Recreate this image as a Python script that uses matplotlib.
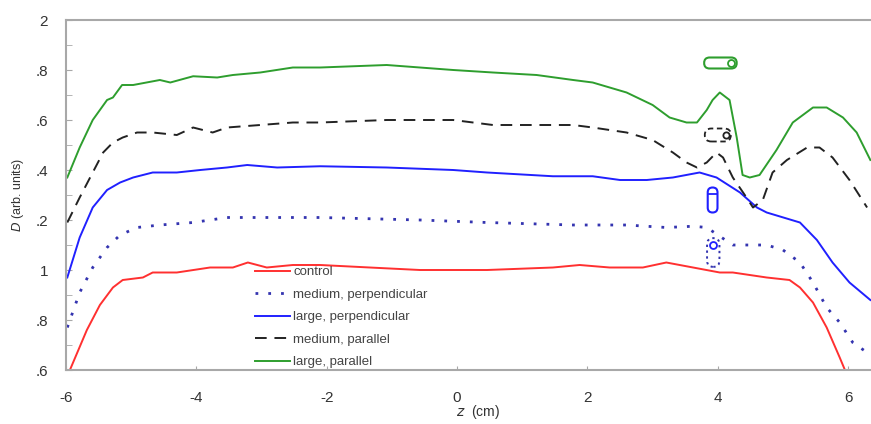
import numpy as np
import matplotlib.pyplot as plt
from matplotlib.patches import FancyBboxPatch

plt.rcParams['font.family'] = ['Liberation Sans', 'DejaVu Sans']

# large, parallel
green_x = [-5.98, -5.79, -5.59, -5.37, -5.28, -5.14, -4.97, -4.56, -4.40, -4.05, -3.68, -3.44,
           -3.02, -2.52, -2.10, -1.08, -0.06, 0.55, 1.22, 1.78, 2.08, 2.60, 3.00, 3.26, 3.52,
           3.68, 3.83, 3.92, 4.03, 4.18, 4.29, 4.38, 4.49, 4.64, 4.90, 5.15, 5.46, 5.67, 5.92,
           6.13, 6.34]
green_y = [1.37, 1.49, 1.60, 1.68, 1.69, 1.74, 1.74, 1.76, 1.75, 1.775, 1.77, 1.78,
           1.79, 1.81, 1.81, 1.82, 1.80, 1.79, 1.78, 1.76, 1.75, 1.71, 1.66, 1.61, 1.59,
           1.59, 1.64, 1.68, 1.71, 1.68, 1.53, 1.38, 1.37, 1.38, 1.48, 1.59, 1.65, 1.65, 1.61,
           1.55, 1.44]

# medium, parallel
black_x = [-5.98, -5.79, -5.59, -5.43, -5.28, -5.13, -4.91, -4.67, -4.30, -4.05, -3.75, -3.53,
           -3.02, -2.52, -2.10, -1.08, -0.06, 0.55, 1.78, 2.08, 2.60, 3.00, 3.31, 3.52, 3.68,
           3.83, 3.98, 4.08, 4.23, 4.44, 4.54, 4.69, 4.84, 5.06, 5.37, 5.56, 5.76, 6.02, 6.29]
black_y = [1.19, 1.29, 1.39, 1.47, 1.51, 1.53, 1.55, 1.55, 1.54, 1.57, 1.55, 1.57,
           1.58, 1.59, 1.59, 1.60, 1.60, 1.58, 1.58, 1.57, 1.55, 1.52, 1.47, 1.43, 1.41,
           1.43, 1.47, 1.45, 1.37, 1.29, 1.25, 1.28, 1.39, 1.44, 1.49, 1.49, 1.45, 1.36, 1.25]

# large, perpendicular
blue_x = [-5.98, -5.79, -5.59, -5.37, -5.17, -4.97, -4.67, -4.30, -3.94, -3.53, -3.22, -2.76,
          -2.10, -1.08, -0.06, 0.46, 1.47, 1.88, 2.08, 2.50, 2.91, 3.31, 3.72, 3.98, 4.34,
          4.60, 4.75, 5.26, 5.52, 5.76, 6.02, 6.34]
blue_y = [0.97, 1.13, 1.25, 1.32, 1.35, 1.37, 1.39, 1.39, 1.40, 1.41, 1.42, 1.41,
          1.415, 1.41, 1.40, 1.39, 1.375, 1.375, 1.375, 1.36, 1.36, 1.37, 1.39, 1.37, 1.31,
          1.25, 1.23, 1.19, 1.12, 1.03, 0.95, 0.88]

# medium, perpendicular
dot_x = [-5.98, -5.79, -5.59, -5.37, -5.17, -4.91, -4.56, -4.05, -3.53, -3.22, -2.76, -2.10,
         -0.57, 0.46, 1.78, 2.60, 3.21, 3.62, 3.83, 4.23, 4.75, 5.00, 5.26, 5.46, 5.67,
         5.87, 6.07, 6.29]
dot_y = [0.77, 0.91, 1.01, 1.09, 1.14, 1.17, 1.18, 1.19, 1.21, 1.21, 1.21, 1.21,
         1.20, 1.19, 1.18, 1.18, 1.17, 1.175, 1.17, 1.10, 1.10, 1.08, 1.03, 0.95, 0.85,
         0.79, 0.71, 0.67]

# control
red_x = [-5.94, -5.68, -5.48, -5.28, -5.13, -4.82, -4.67, -4.30, -3.79, -3.44, -3.21, -2.92,
         -2.52, -2.10, -1.34, -0.57, 0.46, 1.47, 1.88, 2.34, 2.85, 3.21, 3.62, 4.03, 4.23,
         4.75, 5.10, 5.26, 5.46, 5.67, 5.87, 5.95]
red_y = [0.60, 0.76, 0.86, 0.93, 0.96, 0.97, 0.99, 0.99, 1.01, 1.01, 1.03, 1.01,
         1.02, 1.02, 1.01, 1.00, 1.00, 1.01, 1.02, 1.01, 1.01, 1.03, 1.01, 0.99, 0.99,
         0.97, 0.96, 0.93, 0.87, 0.77, 0.65, 0.60]

labels = ["control", "medium, perpendicular", "large, perpendicular",
          "medium, parallel", "large, parallel"]
y_ticks = [0.6, 0.8, 1.0, 1.2, 1.4, 1.6, 1.8, 2.0]
y_ticklabels = [".6", ".8", "1", ".2", ".4", ".6", ".8", "2"]
x_ticks = [-6, -4, -2, 0, 2, 4, 6]

fig = plt.figure(figsize=(8.71, 4.24), dpi=100)
ax = fig.add_axes([66 / 871, 1 - 370 / 424, 805 / 871, 350 / 424])

ax.plot(red_x, red_y, color="#ff3030", lw=1.4, label=labels[0])
ax.plot(dot_x, dot_y, color="#3434b0", lw=2.0, ls=(0, (1.0, 3.6)), label=labels[1])
ax.plot(blue_x, blue_y, color="#2020ff", lw=1.4, label=labels[2])
ax.plot(black_x, black_y, color="#222222", lw=1.4, ls=(0, (6, 4)), label=labels[3])
ax.plot(green_x, green_y, color="#2e9e2e", lw=1.4, label=labels[4])

ax.set_xlim(-6, 6.35)
ax.set_ylim(0.6, 2.0)

# orientation icons
ma = (805 / 12.35) / 250.0


def capsule(cx, cy, w, h, color, ls="-", lw=1.3):
    # w in x units, h in y units
    r = min(w, h / ma) / 2
    p = FancyBboxPatch((cx - w / 2, cy - h / 2), w, h,
                       boxstyle="round,pad=0,rounding_size=%f" % r,
                       mutation_aspect=ma, fc="none", ec=color, ls=ls, lw=lw,
                       clip_on=False)
    ax.add_patch(p)


capsule(4.04, 1.828, 0.50, 0.044, "#2e9e2e", lw=1.5)
ax.plot([4.20], [1.828], marker="o", ms=5, mfc="none", mec="#2e9e2e", mew=1.3)
capsule(4.00, 1.54, 0.40, 0.052, "#222222", ls=(0, (3, 2)), lw=1.3)
ax.plot([4.13], [1.54], marker="o", ms=4.5, mfc="none", mec="#222222", mew=1.3)
capsule(3.92, 1.28, 0.15, 0.10, "#2020ff", lw=1.5)
ax.plot([3.85, 3.99], [1.305, 1.305], color="#2020ff", lw=1.3)
capsule(3.93, 1.07, 0.19, 0.115, "#3434b0", ls=(0, (1.2, 1.8)), lw=1.4)
ax.plot([3.93], [1.10], marker="o", ms=5, mfc="none", mec="#2020ff", mew=1.3)

ax.set_yticks(y_ticks)
ax.set_yticklabels(y_ticklabels)
ax.set_yticks(np.arange(0.6, 2.0, 0.1), minor=True)
ax.set_xticks(x_ticks)
ax.set_xticklabels([str(t) for t in x_ticks])

spine_c = "#a8a8a8"
ax.spines["right"].set_visible(False)
for s in ["left", "top", "bottom"]:
    ax.spines[s].set_color(spine_c)
    ax.spines[s].set_linewidth(1.5)
ax.tick_params(axis="y", which="both", direction="in", length=4, color=spine_c,
               labelsize=11, labelcolor="#333333", pad=13)
ax.tick_params(axis="x", which="both", direction="in", length=3, color=spine_c,
               labelsize=11, labelcolor="#333333", pad=15)

fig.text(18 / 871, 1 - 195 / 424, r"$D$ (arb. units)", rotation=90, fontsize=9,
         color="#333333", ha="center", va="center")
fig.text(478 / 871, 1 - 412 / 424, r"$z$  (cm)", fontsize=10, color="#333333",
         ha="center", va="center")

leg = ax.legend(loc="upper left", bbox_to_anchor=(255 / 871, 1 - 266 / 424),
                bbox_transform=fig.transFigure, frameon=False, fontsize=9.5,
                handlelength=2.65, handletextpad=0.25, labelspacing=0.78,
                borderpad=0, borderaxespad=0)
for t in leg.get_texts():
    t.set_color("#444444")

fig.savefig("out.png", dpi=100)
